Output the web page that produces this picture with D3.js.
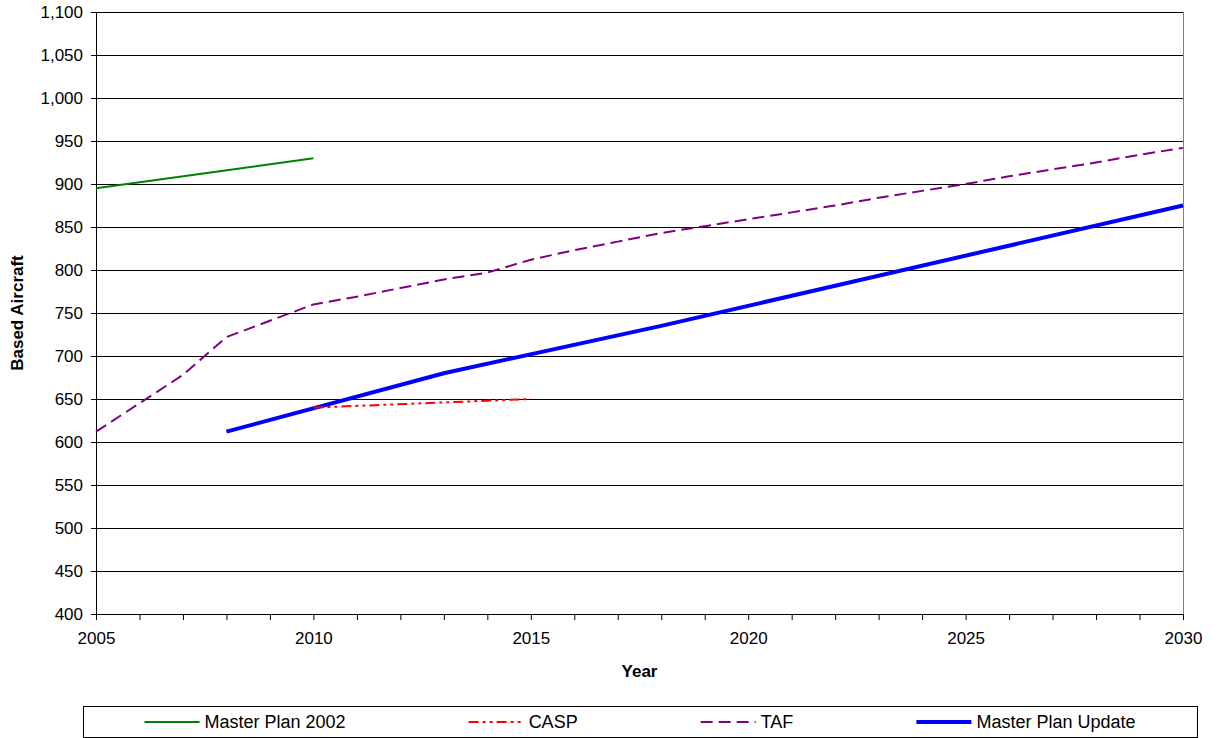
<!DOCTYPE html>
<html>
<head>
<meta charset="utf-8">
<script src="https://cdn.jsdelivr.net/npm/d3@7"></script>
<style>
  body { margin: 0; background: #fff; }
  svg { display: block; font-family: "Liberation Sans", Arial, sans-serif; }
</style>
</head>
<body>
<svg id="chart" width="1217" height="738"></svg>
<script>
// Based aircraft forecasts, by year
const mp2002Years = [2005, 2010];
const mp2002Values = [895, 930];

const caspYears = [2010, 2015];
const caspValues = [640, 650];

const tafYears = [2005, 2006, 2007, 2008, 2009, 2010, 2011, 2012, 2013, 2014, 2015, 2016, 2017,
                  2018, 2019, 2020, 2021, 2022, 2023, 2024, 2025, 2026, 2027, 2028, 2029, 2030];
const tafValues = [612, 645, 678, 722, 741, 760, 769, 779, 789, 797, 812, 823, 833,
                   843, 851, 859, 867, 875, 884, 892, 900, 909, 917, 925, 934, 942];

const mpuYears = [2008, 2013, 2018, 2030];
const mpuValues = [612, 680, 735, 875];

const yTicks = [400, 450, 500, 550, 600, 650, 700, 750, 800, 850, 900, 950, 1000, 1050, 1100];
const xTicks = d3.range(2005, 2031);
const xLabelYears = [2005, 2010, 2015, 2020, 2025, 2030];

const seriesNames = ["Master Plan 2002", "CASP", "TAF", "Master Plan Update"];

(function drawChart() {
  const svg = d3.select("#chart");
  const plotL = 96, plotR = 1183, plotT = 12, plotB = 614;

  const x = d3.scaleLinear().domain([2005, 2030]).range([plotL, plotR]);
  const y = d3.scaleLinear().domain([400, 1100]).range([plotB, plotT]);
  const font = "'Liberation Sans', Arial, sans-serif";

  // horizontal gridlines
  svg.append("g")
    .attr("transform", `translate(${plotL},0)`)
    .call(d3.axisLeft(y).tickValues(yTicks.slice(1)).tickSize(-(plotR - plotL)).tickFormat(""))
    .call(g => g.select(".domain").remove())
    .call(g => g.selectAll("line").attr("stroke", "#000").attr("stroke-width", 1));

  // plot area right edge
  svg.append("line")
    .attr("x1", plotR + 0.5).attr("x2", plotR + 0.5)
    .attr("y1", y(1100)).attr("y2", y(400))
    .attr("stroke", "#808080").attr("stroke-width", 1);

  // y axis
  svg.append("g")
    .attr("transform", `translate(${plotL},0)`)
    .call(d3.axisLeft(y).tickValues(yTicks).tickSize(5).tickPadding(8).tickFormat(d3.format(",")))
    .call(g => g.select(".domain").attr("stroke", "#000"))
    .call(g => g.selectAll("line").attr("stroke", "#000"))
    .call(g => g.selectAll("text").attr("font-size", 17).attr("fill", "#000").attr("font-family", font));

  // x axis
  svg.append("g")
    .attr("transform", `translate(0,${plotB})`)
    .call(d3.axisBottom(x).tickValues(xTicks).tickSize(6).tickPadding(12)
            .tickFormat(d => xLabelYears.includes(d) ? String(d) : ""))
    .call(g => g.select(".domain").attr("stroke", "#000"))
    .call(g => g.selectAll("line").attr("stroke", "#000"))
    .call(g => g.selectAll("text").attr("font-size", 17).attr("fill", "#000").attr("font-family", font));

  // axis titles
  svg.append("text")
    .attr("x", (plotL + plotR) / 2).attr("y", 677)
    .attr("text-anchor", "middle").attr("font-size", 17).attr("font-weight", "bold")
    .text("Year");

  svg.append("text")
    .attr("transform", `translate(23,${(plotT + plotB) / 2}) rotate(-90)`)
    .attr("text-anchor", "middle").attr("font-size", 17).attr("font-weight", "bold")
    .text("Based Aircraft");

  // series
  const styles = [
    { color: "#008000", width: 2, dash: null },
    { color: "#ff0000", width: 2, dash: "10,4,3,4,3,4" },
    { color: "#800080", width: 2, dash: "12,6" },
    { color: "#0000ff", width: 4, dash: null }
  ];

  const seriesData = [
    mp2002Years.map((yr, i) => [yr, mp2002Values[i]]),
    caspYears.map((yr, i) => [yr, caspValues[i]]),
    tafYears.map((yr, i) => [yr, tafValues[i]]),
    mpuYears.map((yr, i) => [yr, mpuValues[i]])
  ];

  const line = d3.line().x(d => x(d[0])).y(d => y(d[1]));
  [0, 2, 3, 1].forEach(i => {
    svg.append("path")
      .datum(seriesData[i])
      .attr("d", line)
      .attr("fill", "none")
      .attr("stroke", styles[i].color)
      .attr("stroke-width", styles[i].width)
      .attr("stroke-dasharray", styles[i].dash)
      .attr("stroke-linejoin", "round");
  });

  // legend
  const legX = 83, legY = 706, legW = 1114, legH = 31;
  svg.append("rect")
    .attr("x", legX + 0.5).attr("y", legY + 0.5)
    .attr("width", legW).attr("height", legH)
    .attr("fill", "#fff").attr("stroke", "#000").attr("stroke-width", 1);

  const swatch = 55, textGap = 5;
  const items = seriesNames.map((name, i) => {
    const g = svg.append("g");
    const t = g.append("text").attr("font-size", 18).attr("fill", "#000").text(name);
    const w = swatch + textGap + t.node().getComputedTextLength();
    return { g, t, w, i };
  });
  const total = d3.sum(items, d => d.w);
  const gap = (legW - total) / items.length;
  let cx = legX + gap / 2;
  const ly = legY + legH / 2 + 0.5;
  items.forEach(it => {
    const s = styles[it.i];
    it.g.append("line")
      .attr("x1", cx).attr("x2", cx + swatch)
      .attr("y1", ly).attr("y2", ly)
      .attr("stroke", s.color).attr("stroke-width", s.width)
      .attr("stroke-dasharray", s.dash);
    it.t.attr("x", cx + swatch + textGap).attr("y", ly + 6);
    cx += it.w + gap;
  });
})();
</script>
</body>
</html>
